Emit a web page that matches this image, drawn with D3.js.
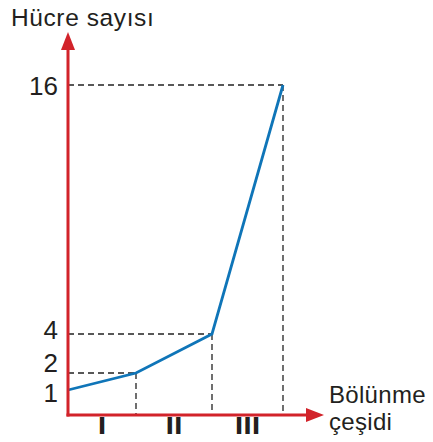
<!DOCTYPE html>
<html>
<head>
<meta charset="utf-8">
<script src="https://cdn.jsdelivr.net/npm/d3@7/dist/d3.min.js"></script>
<style>
  html, body { margin: 0; padding: 0; background: #fff; }
  svg { display: block; }
  text { font-family: "Liberation Sans", Arial, sans-serif; fill: #231f20; }
</style>
</head>
<body>
<svg id="chart" width="433" height="442"></svg>
<script>
// Division stages and cell counts at each boundary
const stages = ["I", "II", "III"];
const steps = [0, 1, 2, 3];
const cellCounts = [1, 2, 4, 16];
const yTickLabels = ["1", "2", "4", "16"];

const svg = d3.select("#chart");
const red = "#d2232a";
const blue = "#0f75b8";
const dash = "#222";

// Schematic axes: boundaries along x, cell counts along y
const x = d3.scaleLinear().domain(steps).range([68, 136, 212, 283]);
const y = d3.scaleLinear().domain(cellCounts).range([390, 373, 334, 85]);
const axisY = 415, axisX = 68;

// Dashed guide lines
const guides = svg.append("g")
  .attr("stroke", dash).attr("stroke-width", 1.3)
  .attr("stroke-dasharray", "6,4").attr("fill", "none");
steps.forEach((s, i) => {
  if (i === 0) return;
  guides.append("line")
    .attr("x1", axisX).attr("x2", x(s))
    .attr("y1", y(cellCounts[i])).attr("y2", y(cellCounts[i]));
  guides.append("line")
    .attr("x1", x(s)).attr("x2", x(s))
    .attr("y1", y(cellCounts[i])).attr("y2", axisY);
});

// Growth line
const line = d3.line().x((d, i) => x(steps[i])).y(d => y(d));
svg.append("path").datum(cellCounts)
  .attr("d", line).attr("fill", "none")
  .attr("stroke", blue).attr("stroke-width", 2.8)
  .attr("stroke-linejoin", "miter");

// Axes with arrowheads
svg.append("line").attr("x1", axisX).attr("x2", axisX)
  .attr("y1", axisY + 1.5).attr("y2", 48)
  .attr("stroke", red).attr("stroke-width", 3);
svg.append("path")
  .attr("d", `M${axisX},32 L${axisX + 7},50 L${axisX - 7},50 Z`)
  .attr("fill", red);
svg.append("line").attr("x1", axisX - 1.5).attr("x2", 309)
  .attr("y1", axisY).attr("y2", axisY)
  .attr("stroke", red).attr("stroke-width", 3);
svg.append("path")
  .attr("d", `M324,${axisY} L306,${axisY - 7} L306,${axisY + 7} Z`)
  .attr("fill", red);

// Y value labels
const labelOffsets = [3, -10, -4, 1];
svg.append("g").selectAll("text").data(cellCounts).join("text")
  .attr("x", 58).attr("y", (d, i) => y(d) + labelOffsets[i])
  .attr("text-anchor", "end").attr("dominant-baseline", "central")
  .attr("font-size", 26)
  .text((d, i) => yTickLabels[i]);

// Stage labels centred between boundaries
svg.append("g").selectAll("text").data(stages).join("text")
  .attr("x", (d, i) => (x(steps[i]) + x(steps[i + 1])) / 2)
  .attr("y", 434)
  .attr("text-anchor", "middle")
  .style("font-family", "'DejaVu Sans', sans-serif")
  .attr("font-size", 23).attr("font-weight", "bold")
  .text(d => d);

// Axis titles
svg.append("text").attr("x", 11).attr("y", 26)
  .attr("font-size", 24.5).attr("letter-spacing", 0.6).text("Hücre sayısı");
svg.append("text").attr("x", 329).attr("y", 403)
  .attr("font-size", 24).attr("letter-spacing", 0.3).text("Bölünme");
svg.append("text").attr("x", 329).attr("y", 430)
  .attr("font-size", 24).attr("letter-spacing", 0.3).text("çeşidi");
</script>
</body>
</html>
